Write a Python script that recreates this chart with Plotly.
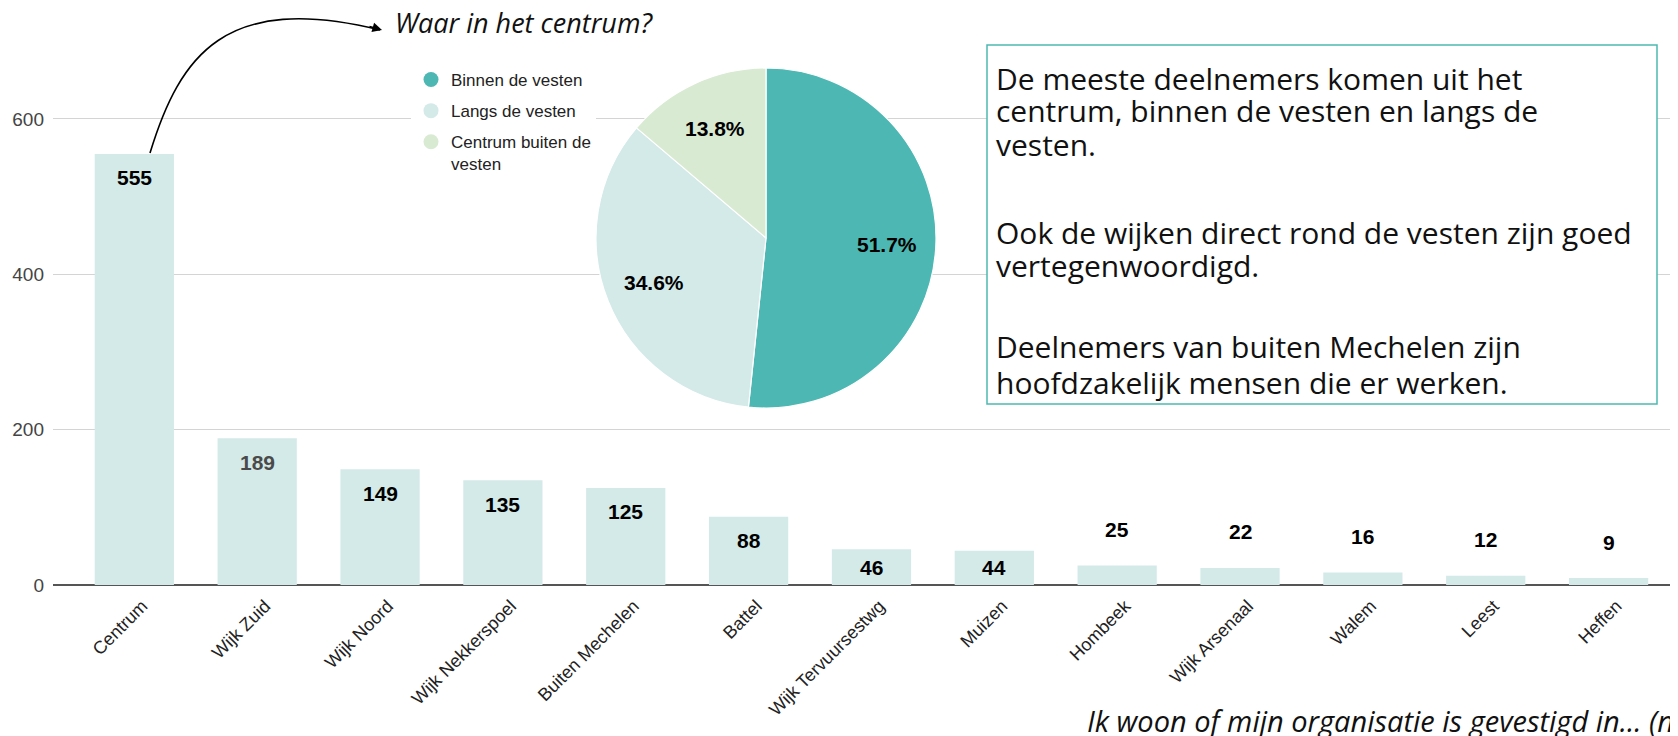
import math
import plotly.graph_objects as go

# ---------------- data ----------------
categories = ["Centrum", "Wijk Zuid", "Wijk Noord", "Wijk Nekkerspoel", "Buiten Mechelen",
              "Battel", "Wijk Tervuursestwg", "Muizen", "Hombeek", "Wijk Arsenaal",
              "Walem", "Leest", "Heffen"]
counts = [555, 189, 149, 135, 125, 88, 46, 44, 25, 22, 16, 12, 9]
y_ticks = [0, 200, 400, 600]

pie_labels = ["Binnen de vesten", "Langs de vesten", "Centrum buiten de vesten"]
pie_legend_names = ["Binnen de vesten", "Langs de vesten", "Centrum buiten de<br>vesten"]
pie_values = [51.7, 34.6, 13.8]

title_text = "Waar in het centrum?"
footer_text = "Ik woon of mijn organisatie is gevestigd in... (n"
box_lines = [
    "De meeste deelnemers komen uit het",
    "centrum, binnen de vesten en langs de",
    "vesten.",
    "Ook de wijken direct rond de vesten zijn goed",
    "vertegenwoordigd.",
    "Deelnemers van buiten Mechelen zijn",
    "hoofdzakelijk mensen die er werken.",
]

# ---------------- layout geometry (page pixels; page has an 8px body margin) ----------------
OFF = 8
W, H = 1678, 736
L, R, T, B = 45, 8, 12, 159
PW, PH = W - L - R, H - T - B
YMAX = 727.4
XRANGE = [-0.662, 12.565]

def fx(px):
    return (px - OFF - L) / PW

def fy(py):
    return (T + PH - (py - OFF)) / PH

bar_color = "#d3eae8"
teal = "#4db8b3"
pie_colors = [teal, "#d3eae8", "#d9ead3"]
ARIAL = "Arial, Liberation Sans, sans-serif"
SANS = "Open Sans, Lato, sans-serif"

fig = go.Figure()

fig.add_trace(go.Bar(
    x=categories, y=counts, marker=dict(color=bar_color, line=dict(width=0)),
    showlegend=False, hoverinfo="x+y",
))

# legend entries (circle markers) for the pie
for name, col in zip(pie_legend_names, pie_colors):
    fig.add_trace(go.Scatter(
        x=[None], y=[None], mode="markers", name=name,
        marker=dict(symbol="circle", size=15, color=col),
        legendgroup=name, showlegend=True,
    ))

# pie geometry (page px)
PCX, PCY, PR = 766, 238, 170
fig.add_trace(go.Pie(
    labels=pie_labels, values=pie_values, sort=False, direction="clockwise", rotation=0,
    marker=dict(colors=pie_colors, line=dict(color="white", width=1.2)),
    textinfo="none", showlegend=False, hoverinfo="label+value",
    domain=dict(x=[fx(PCX - PR), fx(PCX + PR)], y=[fy(PCY + PR), fy(PCY - PR)]),
))

annotations = []

# pie percentage labels placed along each slice's mid angle
total = sum(pie_values)
cum = 0.0
for v in pie_values:
    mid = (cum + v / 2) / total * 2 * math.pi
    cum += v
    lx = PCX + 0.71 * PR * math.sin(mid)
    ly = PCY - 0.71 * PR * math.cos(mid)
    annotations.append(dict(
        x=fx(lx), y=fy(ly), xref="paper", yref="paper", text=f"{v:.1f}%", showarrow=False,
        xanchor="center", yanchor="middle",
        font=dict(family=ARIAL, size=21, color="black", weight="bold"),
    ))

# bar value labels
px_per_unit = PH / YMAX
for c, v in zip(categories, counts):
    hpx = v * px_per_unit
    ys = -min(24, hpx / 2) if v >= 40 else 36
    annotations.append(dict(
        x=c, y=v, xref="x", yref="y", text=str(v), showarrow=False,
        yshift=ys, yanchor="middle",
        font=dict(family=ARIAL, size=21,
                  color="#4a4a4a" if v == 189 else "black", weight="bold"),
    ))

# title near arrow
annotations.append(dict(
    x=fx(393), y=fy(23), xref="paper", yref="paper", text=title_text, showarrow=False,
    xanchor="left", yanchor="middle",
    font=dict(family=SANS, size=27, color="#111", style="italic"),
))
# arrow head
annotations.append(dict(
    x=fx(382), y=fy(30), xref="paper", yref="paper", text="", showarrow=True,
    ax=-14, ay=-4, arrowhead=2, arrowsize=1.2, arrowwidth=1.6, arrowcolor="black",
))
# footer
annotations.append(dict(
    x=fx(1085), y=fy(720), xref="paper", yref="paper", text=footer_text, showarrow=False,
    xanchor="left", yanchor="middle",
    font=dict(family=SANS, size=29, color="#111", style="italic"),
))
# page number fragment
annotations.append(dict(
    x=fx(3), y=fy(752), xref="paper", yref="paper", text="1", showarrow=False,
    xanchor="left", yanchor="middle",
    font=dict(family=SANS, size=30, color="#111"),
))
# text box lines
for txt, yc in zip(box_lines, [78, 111, 144, 232, 265, 347, 382]):
    annotations.append(dict(
        x=fx(994), y=fy(yc), xref="paper", yref="paper", text=txt, showarrow=False,
        xanchor="left", yanchor="middle", align="left",
        font=dict(family=SANS, size=30, color="#111"),
    ))

shapes = [
    dict(type="rect", xref="paper", yref="paper",
         x0=fx(987), x1=fx(1657), y0=fy(404), y1=fy(45),
         line=dict(color=teal, width=1.5), fillcolor="white", layer="above"),
    dict(type="path", xref="paper", yref="paper",
         path=(f"M {fx(150)} {fy(153)} C {fx(180)} {fy(55)}, {fx(225)} {fy(-8)}, {fx(380)} {fy(30)}"),
         line=dict(color="black", width=1.6), layer="above"),
]

fig.update_layout(
    width=W, height=H, margin=dict(l=L, r=R, t=T, b=B, autoexpand=False),
    paper_bgcolor="white", plot_bgcolor="white",
    bargap=0.355,
    xaxis=dict(range=XRANGE, tickangle=-45, showgrid=False, showline=False, ticks="",
               tickfont=dict(family=ARIAL, size=18, color="#222"),
               ticklabelshift=8, ticklabelstandoff=6),
    yaxis=dict(range=[0, YMAX], tickvals=y_ticks, showgrid=True, gridcolor="#d4d4d4",
               gridwidth=1, zeroline=True, zerolinecolor="#555", zerolinewidth=1.5,
               tickfont=dict(family=ARIAL, size=19, color="#444"),
               ticks="", ticklabelstandoff=8),
    legend=dict(x=fx(411), y=fy(62), xanchor="left", yanchor="top", valign="top",
                bgcolor="white", tracegroupgap=6,
                font=dict(family=ARIAL, size=17, color="#222")),
    annotations=annotations, shapes=shapes,
    font=dict(family=ARIAL),
)

fig.write_html("out.html")
